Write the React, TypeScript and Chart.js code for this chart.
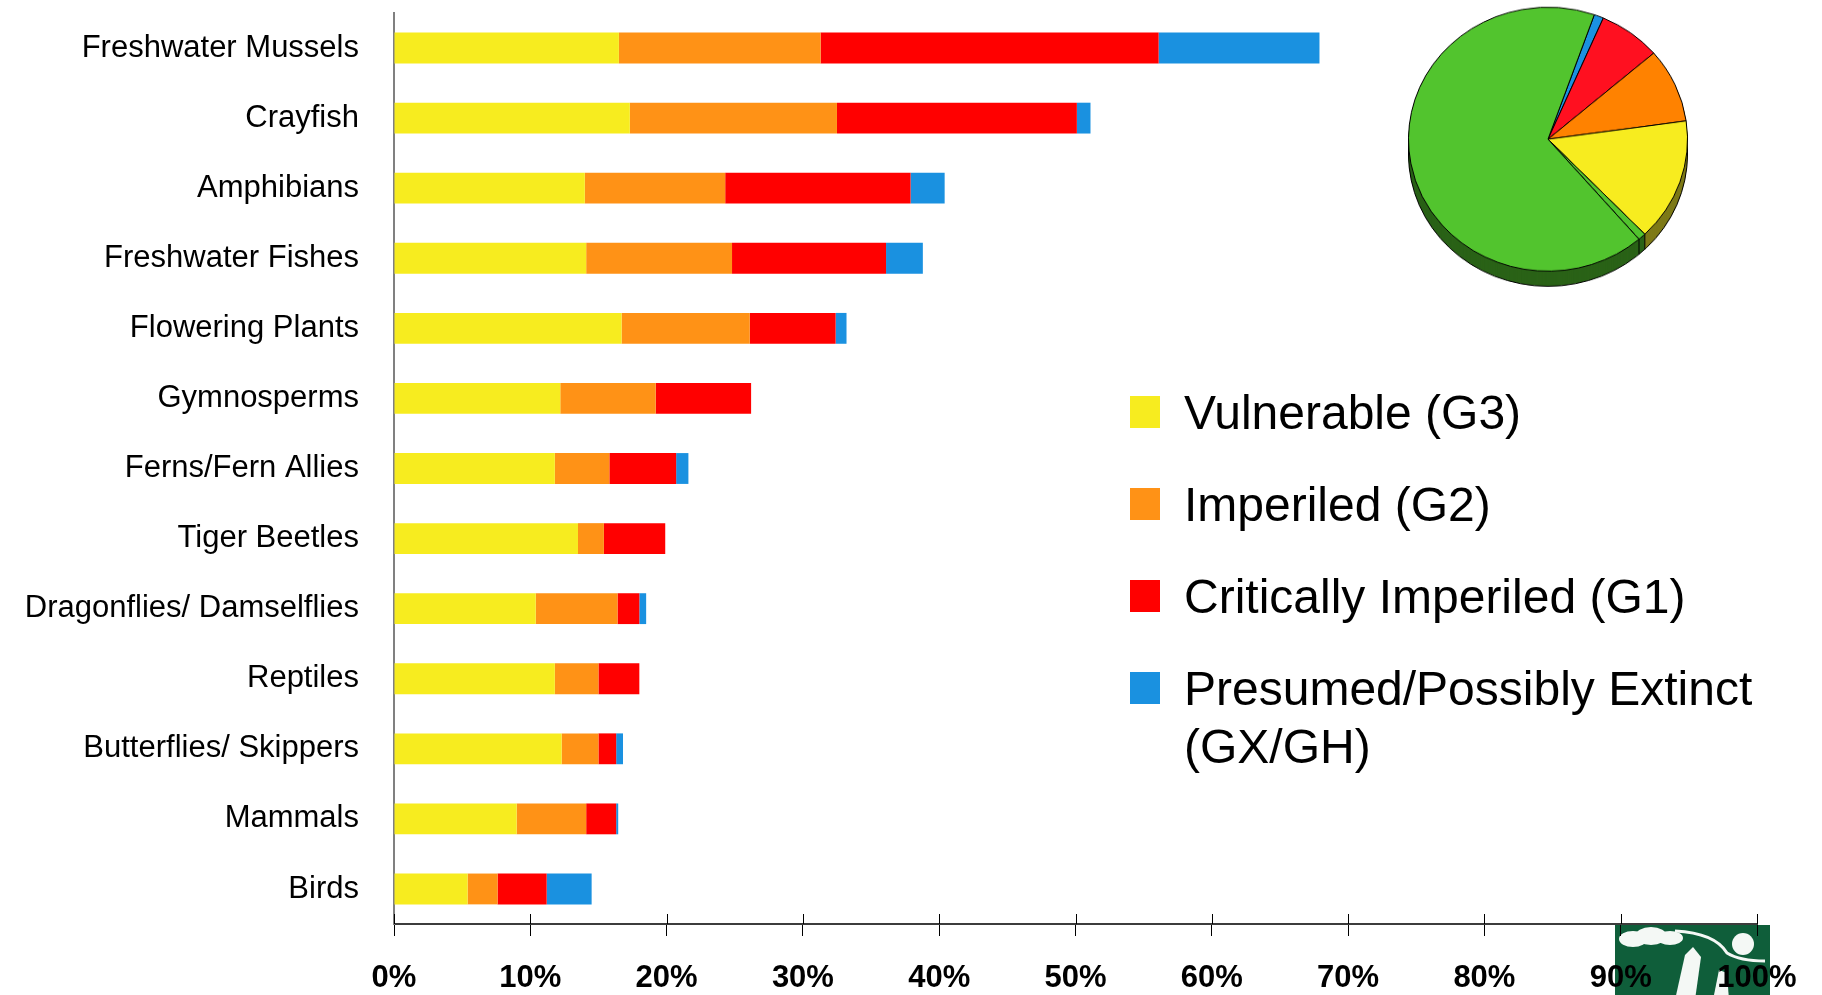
import React, { useEffect, useRef } from 'react';
import { Chart, registerables } from 'chart.js';

Chart.register(...registerables);

// ---------------- data ----------------
const categories = [
  'Freshwater Mussels',
  'Crayfish',
  'Amphibians',
  'Freshwater Fishes',
  'Flowering Plants',
  'Gymnosperms',
  'Ferns/Fern Allies',
  'Tiger Beetles',
  'Dragonflies/ Damselflies',
  'Reptiles',
  'Butterflies/ Skippers',
  'Mammals',
  'Birds',
];
const vulnerableG3 = [16.5, 17.3, 14.0, 14.1, 16.7, 12.2, 11.8, 13.5, 10.4, 11.8, 12.3, 9.0, 5.4];
const imperiledG2 = [14.8, 15.2, 10.3, 10.7, 9.4, 7.0, 4.0, 1.9, 6.0, 3.2, 2.7, 5.1, 2.2];
const criticalG1 = [24.8, 17.6, 13.6, 11.3, 6.3, 7.0, 4.9, 4.5, 1.6, 3.0, 1.3, 2.2, 3.6];
const extinctGXGH = [11.8, 1.0, 2.5, 2.7, 0.8, 0, 0.9, 0, 0.5, 0, 0.5, 0.15, 3.3];

const seriesLabels = [
  'Vulnerable (G3)',
  'Imperiled (G2)',
  'Critically Imperiled (G1)',
  'Presumed/Possibly Extinct (GX/GH)',
];
const xTickLabels = ['0%', '10%', '20%', '30%', '40%', '50%', '60%', '70%', '80%', '90%', '100%'];

const pieLabels = [
  'Presumed/Possibly Extinct (GX/GH)',
  'Critically Imperiled (G1)',
  'Imperiled (G2)',
  'Vulnerable (G3)',
  'Unranked',
  'Apparently Secure / Secure',
];
const pieShares = [1.1, 7.2, 9.1, 15.0, 0.9, 66.7];
const pieRotationDeg = 19.4;

// ---------------- styles ----------------
const FONT = '"Liberation Sans", Arial, Helvetica, sans-serif';
const barColors = ['#F7EC1F', '#FF9216', '#FF0000', '#1A91E0'];
const pieTopColors = ['#1B91E0', '#FF1020', '#FF8200', '#F7EC1F', '#52C42E', '#52C42E'];
const pieSideColors = ['#0E4A73', '#80101A', '#804100', '#7E7A18', '#2A6217', '#2A6217'];
const PIE_DEPTH = 16;

const logoPlugin = {
  id: 'logo',
  beforeDraw(chart: any) {
    const { ctx, chartArea } = chart;
    const x0 = chartArea.right - 142;
    const y0 = chartArea.bottom + 1;
    const w = 155;
    const h = 75;
    ctx.save();
    ctx.fillStyle = '#0F5E3A';
    ctx.fillRect(x0, y0, w, h);
    ctx.fillStyle = '#F4F8F5';
    ctx.strokeStyle = '#F4F8F5';
    ctx.beginPath();
    ctx.ellipse(x0 + 18, y0 + 14, 14, 8, 0, 0, Math.PI * 2);
    ctx.ellipse(x0 + 36, y0 + 11, 16, 9, 0, 0, Math.PI * 2);
    ctx.ellipse(x0 + 55, y0 + 13, 13, 7, 0, 0, Math.PI * 2);
    ctx.fill();
    ctx.beginPath();
    ctx.arc(x0 + 128, y0 + 19, 11, 0, Math.PI * 2);
    ctx.fill();
    ctx.lineWidth = 3;
    ctx.beginPath();
    ctx.moveTo(x0 + 60, y0 + 6);
    ctx.quadraticCurveTo(x0 + 100, y0 + 8, x0 + 112, y0 + 28);
    ctx.quadraticCurveTo(x0 + 125, y0 + 36, x0 + 150, y0 + 36);
    ctx.stroke();
    ctx.beginPath();
    ctx.moveTo(x0 + 60, y0 + 75);
    ctx.lineTo(x0 + 70, y0 + 30);
    ctx.lineTo(x0 + 78, y0 + 22);
    ctx.lineTo(x0 + 86, y0 + 32);
    ctx.lineTo(x0 + 80, y0 + 75);
    ctx.closePath();
    ctx.fill();
    ctx.beginPath();
    ctx.moveTo(x0 + 98, y0 + 75);
    ctx.lineTo(x0 + 104, y0 + 45);
    ctx.lineTo(x0 + 112, y0 + 48);
    ctx.lineTo(x0 + 114, y0 + 75);
    ctx.closePath();
    ctx.fill();
    ctx.restore();
  },
};

const upperTickPlugin = {
  id: 'upperTicks',
  afterDraw(chart: any) {
    const { ctx, chartArea, scales } = chart;
    const xs = scales.x;
    ctx.save();
    ctx.strokeStyle = '#000';
    ctx.lineWidth = 1;
    xs.ticks.forEach((_t: any, i: number) => {
      const px = Math.round(xs.getPixelForTick(i)) + 0.5;
      ctx.beginPath();
      ctx.moveTo(px, chartArea.bottom - 10);
      ctx.lineTo(px, chartArea.bottom);
      ctx.stroke();
    });
    ctx.restore();
  },
};

const sideLegendPlugin = {
  id: 'sideLegend',
  afterDraw(chart: any) {
    const { ctx } = chart;
    const boxX = 1130;
    const boxW = 30;
    const boxH = 32;
    const textX = 1184;
    const firstY = 412;
    const gap = 92;
    const lineH = 58;
    const maxW = 620;
    ctx.save();
    ctx.font = `48px ${FONT}`;
    ctx.textBaseline = 'alphabetic';
    ctx.textAlign = 'left';
    let y = firstY;
    chart.data.datasets.forEach((ds: any) => {
      ctx.fillStyle = ds.backgroundColor;
      ctx.fillRect(boxX, y - boxH / 2, boxW, boxH);
      const words = String(ds.label).split(' ');
      const lines: string[] = [];
      let cur = '';
      words.forEach((w) => {
        const t = cur ? cur + ' ' + w : w;
        if (cur && ctx.measureText(t).width > maxW) {
          lines.push(cur);
          cur = w;
        } else cur = t;
      });
      lines.push(cur);
      ctx.fillStyle = '#000';
      lines.forEach((ln, k) => ctx.fillText(ln, textX, y + 17 + k * lineH));
      y += gap;
    });
    ctx.restore();
  },
};

const pieDepthPlugin = {
  id: 'pieDepth',
  beforeDatasetsDraw(chart: any) {
    const { ctx } = chart;
    const meta = chart.getDatasetMeta(0);
    if (!meta || !meta.data.length) return;
    const props = meta.data.map((a: any) =>
      a.getProps(['x', 'y', 'startAngle', 'endAngle', 'outerRadius'], true)
    );
    const { x, y, outerRadius: R } = props[0];
    ctx.save();
    for (let d = PIE_DEPTH; d >= 1; d--) {
      props.forEach((p: any, i: number) => {
        ctx.beginPath();
        ctx.moveTo(p.x, p.y + d);
        ctx.arc(p.x, p.y + d, p.outerRadius, p.startAngle, p.endAngle);
        ctx.closePath();
        ctx.fillStyle = pieSideColors[i];
        ctx.fill();
      });
    }
    ctx.strokeStyle = '#000';
    ctx.lineWidth = 1;
    ctx.beginPath();
    ctx.arc(x, y + PIE_DEPTH, R, 0, Math.PI);
    ctx.stroke();
    ctx.beginPath();
    ctx.moveTo(x + R, y);
    ctx.lineTo(x + R, y + PIE_DEPTH);
    ctx.moveTo(x - R, y);
    ctx.lineTo(x - R, y + PIE_DEPTH);
    props.forEach((p: any) => {
      const a = p.startAngle;
      if (Math.sin(a) > 0.05) {
        const ex = p.x + R * Math.cos(a);
        const ey = p.y + R * Math.sin(a);
        ctx.moveTo(ex, ey);
        ctx.lineTo(ex, ey + PIE_DEPTH);
      }
    });
    ctx.stroke();
    ctx.restore();
  },
};

function BarChart() {
  const ref = useRef<HTMLCanvasElement>(null);
  useEffect(() => {
    if (!ref.current) return;
    const series = [vulnerableG3, imperiledG2, criticalG1, extinctGXGH];
    const chart = new Chart(ref.current, {
      type: 'bar',
      data: {
        labels: categories,
        datasets: series.map((s, i) => ({
          label: seriesLabels[i],
          data: s,
          backgroundColor: barColors[i],
          borderWidth: 0,
          barPercentage: 0.44,
          categoryPercentage: 1,
        })),
      },
      options: {
        indexAxis: 'y',
        responsive: false,
        animation: false,
        layout: { padding: { top: 13, right: 65, bottom: 0, left: 0 } },
        plugins: {
          legend: { display: false },
          tooltip: { enabled: false },
          title: { display: false },
        },
        scales: {
          x: {
            stacked: true,
            min: 0,
            max: 100,
            ticks: {
              stepSize: 10,
              autoSkip: false,
              maxRotation: 0,
              padding: 24,
              color: '#000',
              font: { family: FONT, size: 31, weight: 'bold' },
              callback: (_v: any, i: number) => xTickLabels[i],
            },
            grid: {
              display: true,
              drawOnChartArea: false,
              drawTicks: true,
              tickLength: 12,
              color: '#000',
              lineWidth: 1,
            },
            border: { display: true, color: '#3C3C3C', width: 2 },
            afterFit: (s: any) => {
              s.height = 71;
              s.paddingLeft = 0;
              s.paddingRight = 0;
              s.paddingTop = 0;
              s.paddingBottom = 0;
            },
          },
          y: {
            stacked: true,
            ticks: {
              autoSkip: false,
              padding: 35,
              color: '#000',
              font: { family: FONT, size: 31 },
            },
            grid: { display: false, drawTicks: false },
            border: { display: true, color: '#808080', width: 2 },
            afterFit: (s: any) => {
              s.width = 394;
              s.paddingLeft = 0;
              s.paddingRight = 0;
              s.paddingTop = 0;
              s.paddingBottom = 0;
            },
          },
        },
      },
      plugins: [logoPlugin, upperTickPlugin, sideLegendPlugin],
    } as any);
    return () => chart.destroy();
  }, []);
  return (
    <canvas
      ref={ref}
      width={1822}
      height={995}
      style={{ position: 'absolute', left: 0, top: 0, width: 1822, height: 995 }}
    />
  );
}

function PieChart() {
  const ref = useRef<HTMLCanvasElement>(null);
  useEffect(() => {
    if (!ref.current) return;
    const chart = new Chart(ref.current, {
      type: 'pie',
      data: {
        labels: pieLabels,
        datasets: [
          {
            data: pieShares,
            backgroundColor: pieTopColors,
            borderColor: '#000',
            borderWidth: 1,
            hoverOffset: 0,
            offset: 0,
          },
        ],
      },
      options: {
        responsive: false,
        animation: false,
        rotation: pieRotationDeg,
        layout: { padding: { top: 5, left: 5, right: 5, bottom: 5 + PIE_DEPTH } },
        plugins: { legend: { display: false }, tooltip: { enabled: false } },
      },
      plugins: [pieDepthPlugin],
    } as any);
    return () => chart.destroy();
  }, []);
  return (
    <div
      style={{
        position: 'absolute',
        left: 1403,
        top: 2,
        width: 290,
        height: 306,
        transform: 'scaleY(0.946)',
        transformOrigin: 'top left',
      }}
    >
      <canvas ref={ref} width={290} height={306} style={{ width: 290, height: 306 }} />
    </div>
  );
}

export default function App() {
  return (
    <div
      style={{
        position: 'fixed',
        left: 0,
        top: 0,
        width: 1822,
        height: 995,
        background: '#fff',
        overflow: 'hidden',
      }}
    >
      <BarChart />
      <PieChart />
    </div>
  );
}
